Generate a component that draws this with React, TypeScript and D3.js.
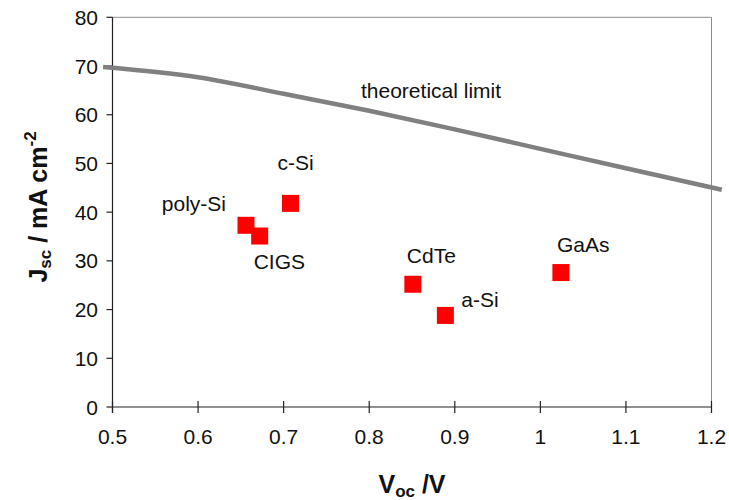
import React from "react";
import * as d3 from "d3";

const limitV = [0.489, 0.6, 0.7, 0.8, 0.9, 1.0, 1.1, 1.212];
const limitJ = [69.8, 67.7, 64.3, 60.8, 57.0, 53.0, 49.0, 44.6];

const cellNames = ["poly-Si", "CIGS", "c-Si", "CdTe", "a-Si", "GaAs"];
const cellV = [0.656, 0.672, 0.708, 0.851, 0.889, 1.024];
const cellJ = [37.3, 35.1, 41.8, 25.2, 18.8, 27.6];

const xTicks = [0.5, 0.6, 0.7, 0.8, 0.9, 1.0, 1.1, 1.2];
const yTicks = [0, 10, 20, 30, 40, 50, 60, 70, 80];

// label offsets relative to the marker (dx, dy in px, anchor)
const labelPos: [number, number, string][] = [
  [-20, -14, "end"],
  [-6, 33, "start"],
  [-13, -33, "start"],
  [-6, -21, "start"],
  [16, -8, "start"],
  [-4, -21, "start"],
];

const W = 729;
const H = 500;
const left = 112.5;
const right = 711.5;
const top = 17.3;
const bottom = 407;

export default function App() {
  const x = d3.scaleLinear().domain([0.5, 1.2]).range([left, right]);
  const y = d3.scaleLinear().domain([0, 80]).range([bottom, top]);
  const line = d3
    .line<number>()
    .x((_, i) => x(limitV[i]))
    .y((d) => y(d))
    .curve(d3.curveMonotoneX);
  const font = "'Liberation Sans', Arial, sans-serif";
  const sq = 17;
  return (
    <svg
      width={W}
      height={H}
      style={{ position: "absolute", left: 0, top: 0, background: "#fff" }}
      fontFamily={font}
    >
      {/* frame top/right */}
      <line x1={left} x2={right} y1={top} y2={top} stroke="#8c8c8c" strokeWidth={1} />
      <line x1={right} x2={right} y1={top} y2={bottom} stroke="#8c8c8c" strokeWidth={1} />
      {/* axes */}
      <line x1={left} x2={left} y1={top} y2={bottom + 6} stroke="#222" strokeWidth={1.2} />
      <line x1={left} x2={right} y1={bottom} y2={bottom} stroke="#222" strokeWidth={1.2} />
      {yTicks.map((t) => (
        <g key={"y" + t}>
          <line x1={left - 6} x2={left + (t === 0 ? 0 : 0)} y1={y(t)} y2={y(t)} stroke="#222" strokeWidth={1.2} />
          <text x={98} y={y(t) + 7.5} textAnchor="end" fontSize={21} fill="#111">
            {t}
          </text>
        </g>
      ))}
      {xTicks.map((t) => (
        <g key={"x" + t}>
          <line x1={x(t)} x2={x(t)} y1={bottom - 6} y2={bottom + 6} stroke="#222" strokeWidth={1.2} />
          <text x={x(t)} y={444} textAnchor="middle" fontSize={21} fill="#111">
            {d3.format("~g")(t)}
          </text>
        </g>
      ))}
      {/* theoretical limit */}
      <path d={line(limitJ) || ""} fill="none" stroke="#808080" strokeWidth={4.5} />
      <text x={361} y={98} fontSize={21} fill="#111">
        theoretical limit
      </text>
      {/* cells */}
      {cellNames.map((n, i) => (
        <rect
          key={n}
          x={x(cellV[i]) - sq / 2}
          y={y(cellJ[i]) - sq / 2}
          width={sq}
          height={sq}
          fill="#ff0000"
        />
      ))}
      {cellNames.map((n, i) => (
        <text
          key={"l" + n}
          x={x(cellV[i]) + labelPos[i][0]}
          y={y(cellJ[i]) + labelPos[i][1]}
          textAnchor={labelPos[i][2] as any}
          fontSize={21}
          fill="#111"
        >
          {n}
        </text>
      ))}
      {/* axis titles */}
      <text x={412} y={493} textAnchor="middle" fontSize={25} fontWeight="bold" fill="#111">
        V<tspan fontSize={17} dy={4}>oc</tspan>
        <tspan dy={-4}> /V</tspan>
      </text>
      <text
        transform={`translate(47,207) rotate(-90)`}
        textAnchor="middle"
        fontSize={25}
        fontWeight="bold"
        fill="#111"
      >
        J<tspan fontSize={17} dy={4}>sc</tspan>
        <tspan dy={-4}> / mA cm</tspan>
        <tspan fontSize={17} dy={-11}>-2</tspan>
      </text>
    </svg>
  );
}
